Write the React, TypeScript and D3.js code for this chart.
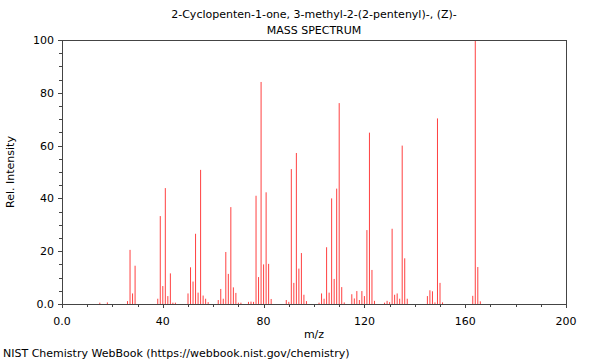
import React from "react";
import * as d3 from "d3";

const title1 = "2-Cyclopenten-1-one, 3-methyl-2-(2-pentenyl)-, (Z)-";
const title2 = "MASS SPECTRUM";
const xLabel = "m/z";
const yLabel = "Rel. Intensity";
const footer = "NIST Chemistry WebBook (https://webbook.nist.gov/chemistry)";

const mz = [15, 18, 26, 27, 28, 29, 38, 39, 40, 41, 42, 43, 44, 45, 50, 51, 52, 53, 54, 55, 56, 57, 58,
  62, 63, 64, 65, 66, 67, 68, 69, 70, 71, 74, 75, 76, 77, 78, 79, 80, 81, 82, 83,
  89, 90, 91, 92, 93, 94, 95, 96, 97, 102, 103, 104, 105, 106, 107, 108, 109, 110, 111, 112,
  115, 116, 117, 118, 119, 120, 121, 122, 123, 124, 128, 129, 130, 131, 132, 133, 134, 135, 136, 137,
  145, 146, 147, 148, 149, 150, 151, 163, 164, 165, 166];
const intensity = [0.5, 0.6, 1.1, 20.5, 4, 14.5, 2, 33.3, 6.8, 43.9, 3, 11.6, 0.5, 0.5, 4, 13.9, 8.5, 26.6, 4.3, 50.8, 3.2, 2, 0.7,
  1.5, 5.7, 2, 19.7, 11.4, 36.7, 6.3, 4.2, 0.5, 0.5, 0.8, 0.9, 0.8, 41, 10.2, 84.1, 15, 42.3, 15.2, 1.9,
  1.5, 0.8, 51.1, 8, 57.2, 13.4, 19.3, 3.5, 1.1, 0.5, 4, 2, 21.5, 4.3, 40, 9.5, 43.7, 76.1, 6.4, 0.6,
  3.7, 2.1, 4.9, 1.5, 4.9, 3, 28, 64.9, 12.9, 1.2, 0.5, 1.2, 0.7, 28.5, 3.5, 4, 2, 60, 17.3, 2,
  3, 5.2, 4.8, 0.6, 70.3, 8, 0.6, 3.1, 100, 14, 1];

const xMajor = [0, 40, 80, 120, 160, 200];
const xMajorLabels = ["0.0", "40", "80", "120", "160", "200"];
const yMajor = [0, 20, 40, 60, 80, 100];
const yMajorLabels = ["0.0", "20", "40", "60", "80", "100"];

const W = 600, H = 360;
const L = 62, R = 566, T = 40, B = 304;
const font = "DejaVu Sans, sans-serif";
const axisColor = "#444";

export default function App() {
  const x = d3.scaleLinear().domain([0, 200]).range([L, R]);
  const y = d3.scaleLinear().domain([0, 100]).range([B, T]);
  const xMinor = d3.range(0, 201, 10).filter(v => !xMajor.includes(v));
  const yMinor = d3.range(0, 101, 5).filter(v => !yMajor.includes(v));

  return (
    <div style={{ position: "absolute", left: 0, top: 0 }}>
      <svg width={W} height={H} style={{ display: "block", background: "#fff" }} fontFamily={font}>
        <text x={(L + R) / 2} y={18} textAnchor="middle" fontSize={11} fill="#000">{title1}</text>
        <text x={(L + R) / 2} y={34} textAnchor="middle" fontSize={11} fill="#000">{title2}</text>

        {mz.map((m, i) => (
          <line key={m} x1={x(m)} x2={x(m)} y1={y(0)} y2={y(intensity[i])} stroke="#ff4040" strokeWidth={1} />
        ))}

        {/* frame */}
        <line x1={L} x2={R} y1={T + 0.5} y2={T + 0.5} stroke={axisColor} />
        <line x1={R + 0.5} x2={R + 0.5} y1={T} y2={B} stroke={axisColor} />
        <line x1={L} x2={R + 1} y1={B + 0.5} y2={B + 0.5} stroke={axisColor} />
        <line x1={L + 0.5} x2={L + 0.5} y1={T} y2={B + 1} stroke={axisColor} />

        {xMajor.map((v, i) => (
          <g key={"xm" + v}>
            <line x1={Math.round(x(v)) + 0.5} x2={Math.round(x(v)) + 0.5} y1={B} y2={B + 4} stroke={axisColor} />
            <text x={x(v)} y={B + 21} textAnchor="middle" fontSize={11}>{xMajorLabels[i]}</text>
          </g>
        ))}
        {xMinor.map(v => (
          <line key={"xn" + v} x1={Math.round(x(v)) + 0.5} x2={Math.round(x(v)) + 0.5} y1={B} y2={B + 3} stroke={axisColor} />
        ))}
        {yMajor.map((v, i) => (
          <g key={"ym" + v}>
            <line x1={L - 4} x2={L} y1={Math.round(y(v)) + 0.5} y2={Math.round(y(v)) + 0.5} stroke={axisColor} />
            <text x={L - 8} y={y(v) + 4} textAnchor="end" fontSize={11}>{yMajorLabels[i]}</text>
          </g>
        ))}
        {yMinor.map(v => (
          <line key={"yn" + v} x1={L - 3} x2={L} y1={Math.round(y(v)) + 0.5} y2={Math.round(y(v)) + 0.5} stroke={axisColor} />
        ))}

        <text x={(L + R) / 2} y={338} textAnchor="middle" fontSize={11}>{xLabel}</text>
        <text transform={`translate(14, ${(T + B) / 2}) rotate(-90)`} textAnchor="middle" fontSize={11}>{yLabel}</text>
        <text x={3} y={357} fontSize={11}>{footer}</text>
      </svg>
    </div>
  );
}
